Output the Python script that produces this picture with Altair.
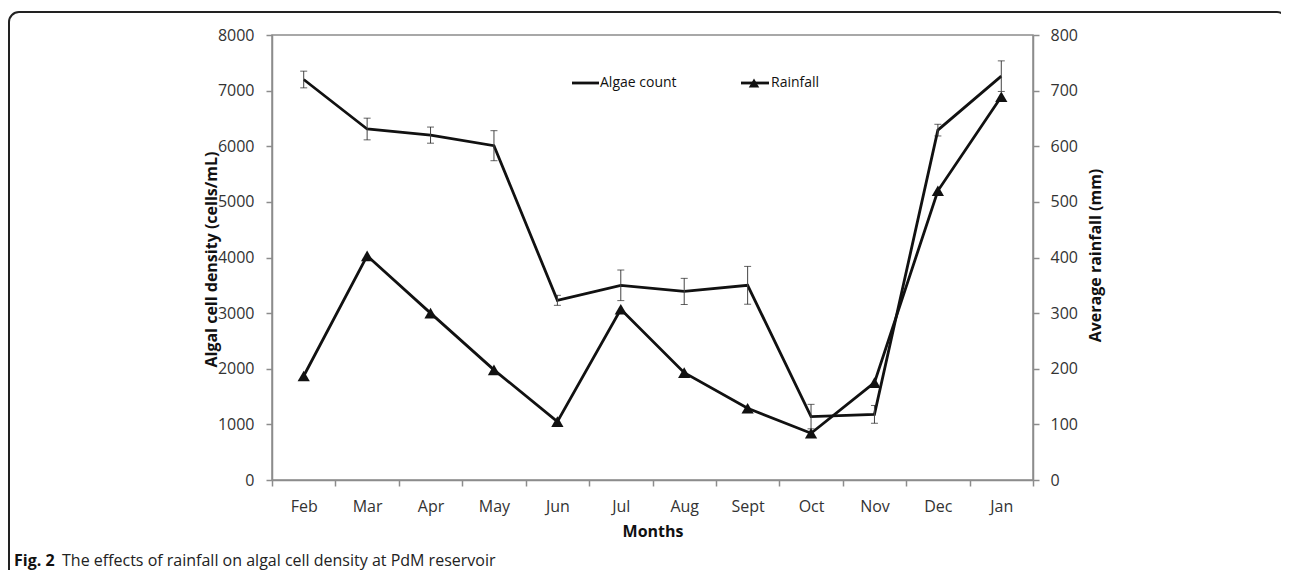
import altair as alt
import pandas as pd

months = ["Feb", "Mar", "Apr", "May", "Jun", "Jul", "Aug", "Sept", "Oct", "Nov", "Dec", "Jan"]
algae = [7200, 6310, 6200, 6010, 3230, 3500, 3390, 3500, 1140, 1180, 6290, 7260]
algae_err = [150, 195, 145, 270, 90, 275, 235, 340, 220, 160, 105, 275]
rain = [187, 403, 300, 198, 105, 307, 193, 129, 84, 175, 520, 689]

series_names = ["Algae count", "Rainfall"]
left_title = "Algal cell density (cells/mL)"
right_title = "Average rainfall (mm)"
x_title = "Months"
caption_bold = "Fig. 2"
caption_text = "The effects of rainfall on algal cell density at PdM reservoir"

df = pd.DataFrame({
    "month": months,
    "algae": algae,
    "lo": [a - e for a, e in zip(algae, algae_err)],
    "hi": [a + e for a, e in zip(algae, algae_err)],
    "rain": rain,
})

FONT = "Open Sans"
GRAY = "#8c8c8c"
W, H = 761, 445
OX, OY = 272, 35  # page position of plot origin

x_enc = alt.X(
    "month:N", sort=months,
    scale=alt.Scale(type="band", paddingInner=0, paddingOuter=0),
    axis=alt.Axis(
        title=x_title, labelAngle=0, tickBand="extent", grid=False,
        domainColor=GRAY, domainWidth=1.5, tickColor=GRAY, tickWidth=1.5, tickSize=6,
        labelPadding=12, labelFont=FONT, labelFontSize=16, labelColor="#333",
        titleFont=FONT, titleFontSize=16, titleFontWeight="bold", titleColor="#111",
        titleY=56, titleBaseline="alphabetic",
    ),
)

left_axis = alt.Axis(
    title=left_title, values=list(range(0, 8001, 1000)), format="d", grid=False,
    domainColor=GRAY, domainWidth=1.5, tickColor=GRAY, tickWidth=1.5, tickSize=6,
    labelPadding=12, labelFont=FONT, labelFontSize=16, labelColor="#333",
    titleFont=FONT, titleFontSize=16, titleFontWeight="bold", titleColor="#111",
    titleAngle=270, titleX=-56, titleY=224, titleBaseline="alphabetic", titleAlign="center",
)
right_axis = alt.Axis(
    title=right_title, orient="right", values=list(range(0, 801, 100)), format="d", grid=False,
    domainColor=GRAY, domainWidth=1.5, tickColor=GRAY, tickWidth=1.5, tickSize=6,
    labelPadding=11, labelFont=FONT, labelFontSize=16, labelColor="#333",
    titleFont=FONT, titleFontSize=16, titleFontWeight="bold", titleColor="#111",
    titleAngle=270, titleX=67, titleY=220, titleBaseline="alphabetic", titleAlign="center",
)

yscale_l = alt.Scale(domain=[0, 8000], nice=False)
yscale_r = alt.Scale(domain=[0, 800], nice=False)

base = alt.Chart(df)

algae_line = base.mark_line(color="#111", strokeWidth=2.8).encode(
    x=x_enc, y=alt.Y("algae:Q", scale=yscale_l, axis=left_axis))
err_rule = base.mark_rule(color="#444", strokeWidth=1).encode(
    x=x_enc, y=alt.Y("lo:Q", scale=yscale_l, axis=left_axis), y2="hi:Q")
cap_hi = base.mark_tick(color="#222", size=7, thickness=1).encode(
    x=x_enc, y=alt.Y("hi:Q", scale=yscale_l, axis=left_axis))
cap_lo = base.mark_tick(color="#222", size=7, thickness=1).encode(
    x=x_enc, y=alt.Y("lo:Q", scale=yscale_l, axis=left_axis))
algae_layer = alt.layer(algae_line, err_rule, cap_hi, cap_lo)

rain_line = base.mark_line(color="#111", strokeWidth=2.8).encode(
    x=x_enc, y=alt.Y("rain:Q", scale=yscale_r, axis=right_axis))
rain_pts = base.mark_point(shape="triangle-up", filled=True, color="#111", size=150, opacity=1).encode(
    x=x_enc, y=alt.Y("rain:Q", scale=yscale_r, axis=right_axis))
rain_layer = alt.layer(rain_line, rain_pts)

# legend (drawn)
one = alt.Chart(pd.DataFrame({"k": [0]}))
lg_y = 83 - OY
leg_line1 = one.mark_rule(color="#111", strokeWidth=2.8).encode(
    x=alt.value(572 - OX), x2=alt.value(599 - OX), y=alt.value(lg_y))
leg_text1 = one.mark_text(align="left", baseline="middle", font=FONT, fontSize=14, color="#111").encode(
    x=alt.value(600 - OX), y=alt.value(lg_y), text=alt.value(series_names[0]))
leg_line2 = one.mark_rule(color="#111", strokeWidth=2.8).encode(
    x=alt.value(741 - OX), x2=alt.value(769 - OX), y=alt.value(lg_y))
leg_tri = one.mark_point(shape="triangle-up", filled=True, color="#111", size=110, opacity=1).encode(
    x=alt.value(754 - OX), y=alt.value(lg_y))
leg_text2 = one.mark_text(align="left", baseline="middle", font=FONT, fontSize=14, color="#111").encode(
    x=alt.value(771 - OX), y=alt.value(lg_y), text=alt.value(series_names[1]))

# caption
cap1 = one.mark_text(align="left", baseline="alphabetic", font=FONT, fontSize=16,
                     fontWeight="bold", color="#111").encode(
    x=alt.value(14 - OX), y=alt.value(566 - OY), text=alt.value(caption_bold))
cap2 = one.mark_text(align="left", baseline="alphabetic", font=FONT, fontSize=16, color="#222").encode(
    x=alt.value(62 - OX), y=alt.value(566 - OY), text=alt.value(caption_text))

# outer rounded frame
frame = one.mark_rect(fill="white", fillOpacity=0, stroke="#222", strokeWidth=2, cornerRadius=10).encode(
    x=alt.value(9 - OX), x2=alt.value(1287 - OX), y=alt.value(12 - OY), y2=alt.value(640 - OY))

deco = alt.layer(frame, leg_line1, leg_text1, leg_line2, leg_tri, leg_text2, cap1, cap2)

TOT_W, TOT_H = 1273, 562
chart = alt.layer(algae_layer, rain_layer, deco).resolve_scale(y="independent").properties(
    width=W, height=H,
    autosize=alt.AutoSizeParams(type="none"),
    padding={"left": OX - 8, "top": OY - 8, "right": TOT_W - (OX - 8) - W, "bottom": TOT_H - (OY - 8) - H},
    background="white",
).configure_view(stroke=GRAY, strokeWidth=1.5)

chart.save("out.html", embed_options={"renderer": "svg", "actions": False})
